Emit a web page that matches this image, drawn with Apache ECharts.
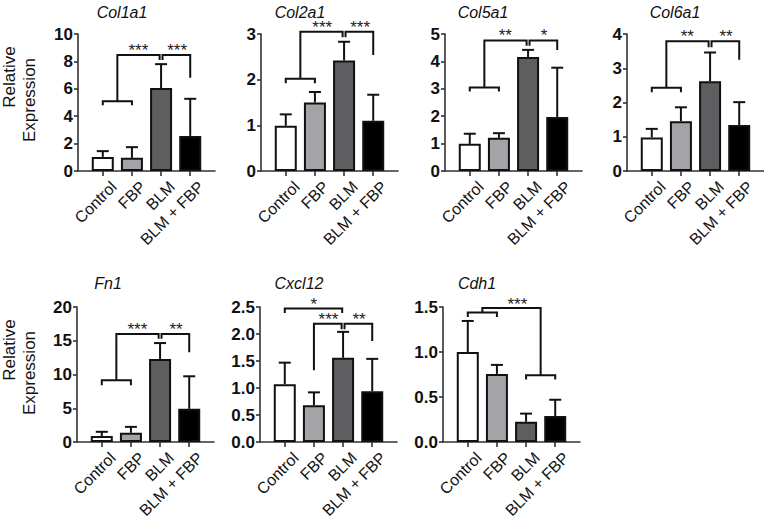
<!DOCTYPE html>
<html><head><meta charset="utf-8">
<script src="https://cdn.jsdelivr.net/npm/echarts@6/dist/echarts.min.js"></script>
<style>html,body{margin:0;padding:0;background:#fff}#c{width:764px;height:521px}</style>
</head><body><div id="c"></div>
<script>
// ---------- data ----------
const categories = ['Control', 'FBP', 'BLM', 'BLM + FBP'];
const genes = ['Col1a1', 'Col2a1', 'Col5a1', 'Col6a1', 'Fn1', 'Cxcl12', 'Cdh1'];
const yMax = [10, 3, 5, 4, 20, 2.5, 1.5];
const yStep = [2, 1, 1, 1, 5, 0.5, 0.5];
const yDecimals = [0, 0, 0, 0, 0, 1, 1];

// mean values per gene (Control, FBP, BLM, BLM + FBP)
const col1a1Mean = [1.03, 0.96, 6.05, 2.56];
const col2a1Mean = [0.99, 1.50, 2.42, 1.10];
const col5a1Mean = [0.99, 1.21, 4.16, 1.97];
const col6a1Mean = [0.98, 1.45, 2.62, 1.34];
const fn1Mean = [0.88, 1.37, 12.3, 4.92];
const cxcl12Mean = [1.07, 0.68, 1.56, 0.94];
const cdh1Mean = [1.00, 0.757, 0.225, 0.29];

// upper error (SD) per gene
const col1a1Sd = [0.42, 0.78, 1.75, 2.71];
const col2a1Sd = [0.25, 0.23, 0.41, 0.57];
const col5a1Sd = [0.37, 0.17, 0.26, 1.80];
const col6a1Sd = [0.25, 0.41, 0.84, 0.67];
const fn1Sd = [0.64, 0.88, 2.36, 4.82];
const cxcl12Sd = [0.40, 0.24, 0.48, 0.60];
const cdh1Sd = [0.345, 0.10, 0.091, 0.18];

// significance brackets: [x1, x2, y, leftEndY, rightEndY]
const col1a1Brackets = [[0, 1, 5.1, 4.8, 4.8], [0.5, 1.95, 8.46, 5.1, 8.1], [2.05, 3, 8.46, 8.1, 6.8]];
const col2a1Brackets = [[0, 1, 2.02, 1.92, 1.92], [0.5, 1.95, 3.05, 2.02, 2.93], [2.05, 3, 3.05, 2.93, 2.54]];
const col5a1Brackets = [[0, 1, 3.05, 2.9, 2.9], [0.5, 1.95, 4.76, 3.05, 4.57], [2.05, 3, 4.76, 4.57, 4.42]];
const col6a1Brackets = [[0, 1, 2.43, 2.3, 2.3], [0.5, 1.95, 3.79, 2.43, 3.61], [2.05, 3, 3.79, 3.61, 3.25]];
const fn1Brackets = [[0, 1, 9.15, 8.4, 8.4], [0.5, 1.95, 16.0, 9.15, 15.3], [2.05, 3, 16.0, 15.3, 13.3]];
const cxcl12Brackets = [[0, 1.97, 2.47, 2.39, 2.39], [1, 1.95, 2.19, 1.33, 2.09], [2.05, 3, 2.19, 2.09, 1.87]];
const cdh1Brackets = [[0, 1, 1.438, 1.39, 1.39], [2, 3, 0.743, 0.695, 0.695], [0.5, 2.5, 1.49, 1.438, 0.743]];

// significance stars: [x, y, text]
const col1a1Stars = [[1.22, 9.05, '***'], [2.55, 9.05, '***']];
const col2a1Stars = [[1.25, 3.2, '***'], [2.55, 3.2, '***']];
const col5a1Stars = [[1.22, 5.07, '**'], [2.55, 5.07, '*']];
const col6a1Stars = [[1.22, 4.02, '**'], [2.55, 4.02, '**']];
const fn1Stars = [[1.22, 17.1, '***'], [2.55, 17.1, '**']];
const cxcl12Stars = [[1.0, 2.61, '*'], [1.5, 2.32, '***'], [2.55, 2.32, '**']];
const cdh1Stars = [[1.7, 1.565, '***']];

// ---------- layout / style ----------
const means = [col1a1Mean, col2a1Mean, col5a1Mean, col6a1Mean, fn1Mean, cxcl12Mean, cdh1Mean];
const sds = [col1a1Sd, col2a1Sd, col5a1Sd, col6a1Sd, fn1Sd, cxcl12Sd, cdh1Sd];
const brackets = [col1a1Brackets, col2a1Brackets, col5a1Brackets, col6a1Brackets, fn1Brackets, cxcl12Brackets, cdh1Brackets];
const stars = [col1a1Stars, col2a1Stars, col5a1Stars, col6a1Stars, fn1Stars, cxcl12Stars, cdh1Stars];

const gridLeft = [78, 261, 445, 627, 77, 260, 443];
const gridTop = [34, 34, 34, 34, 307, 307, 307];
const GW = 137, GH = 137;
const X_MIN = -0.85, X_MAX = 3.85;
const LABEL_SHIFT = 11 / (GW / (X_MAX - X_MIN)); // label anchor shift to the right (in axis units)
const titlePos = [[122, 12], [300, 12], [483, 12], [675, 12], [108, 283], [299, 283], [477, 283]];
const barColors = ['#ffffff', '#a4a4a8', '#5e5e60', '#000000'];
const INK = '#111';
const FONT = 'Liberation Sans, Arial, Helvetica, sans-serif';

const grids = [], xAxes = [], yAxes = [], series = [], graphics = [];

genes.forEach((g, k) => {
  grids.push({left: gridLeft[k], top: gridTop[k], width: GW, height: GH, containLabel: false});
  // axis with line + ticks
  xAxes.push({
    gridIndex: k, type: 'value', min: X_MIN, max: X_MAX, position: 'bottom',
    splitLine: {show: false},
    axisLine: {show: true, onZero: false, lineStyle: {color: '#333', width: 1.6}},
    axisTick: {show: true, customValues: [0, 1, 2, 3], length: 5, lineStyle: {color: '#333', width: 1.6}},
    axisLabel: {show: false}
  });
  // companion axis carrying the rotated category labels
  xAxes.push({
    gridIndex: k, type: 'value', min: X_MIN - LABEL_SHIFT, max: X_MAX - LABEL_SHIFT, position: 'bottom', offset: 0,
    splitLine: {show: false}, axisLine: {show: false, onZero: false}, axisTick: {show: false},
    axisLabel: {
      customValues: [0, 1, 2, 3], rotate: 45, margin: 13,
      formatter: v => categories[Math.round(v)],
      fontFamily: FONT, fontSize: 16, color: '#111'
    }
  });
  yAxes.push({
    gridIndex: k, type: 'value', min: 0, max: yMax[k], interval: yStep[k],
    splitLine: {show: false},
    axisLine: {show: true, onZero: false, lineStyle: {color: '#333', width: 1.6}},
    axisTick: {show: true, length: 4, lineStyle: {color: '#333', width: 1.6}},
    axisLabel: {
      margin: 5, fontFamily: FONT, fontSize: 17, fontWeight: 'bold', color: '#111',
      formatter: v => Number(v).toFixed(yDecimals[k])
    }
  });
  const xi = 2 * k;
  // error bars (upper only)
  series.push({
    type: 'custom', xAxisIndex: xi, yAxisIndex: k, z: 1,
    data: means[k].map((m, i) => [i, m, m + sds[k][i]]),
    renderItem: (params, api) => {
      const p0 = api.coord([api.value(0), api.value(1)]);
      const p1 = api.coord([api.value(0), api.value(2)]);
      return {type: 'group', children: [
        {type: 'line', shape: {x1: p0[0], y1: p0[1], x2: p1[0], y2: p1[1]}, style: {stroke: INK, lineWidth: 2}},
        {type: 'line', shape: {x1: p1[0] - 6, y1: p1[1], x2: p1[0] + 6, y2: p1[1]}, style: {stroke: INK, lineWidth: 2}}
      ]};
    }
  });
  // bars
  series.push({
    type: 'bar', xAxisIndex: xi, yAxisIndex: k, z: 2, barWidth: 22,
    data: means[k].map((m, i) => ({value: [i, m], itemStyle: {color: barColors[i]}})),
    itemStyle: {borderColor: INK, borderWidth: 2}
  });
  // brackets
  series.push({
    type: 'custom', xAxisIndex: xi, yAxisIndex: k, z: 3, clip: false,
    data: brackets[k],
    renderItem: (params, api) => {
      const x1 = api.value(0), x2 = api.value(1), y = api.value(2), yl = api.value(3), yr = api.value(4);
      const pts = [api.coord([x1, yl]), api.coord([x1, y]), api.coord([x2, y]), api.coord([x2, yr])];
      return {type: 'polyline', shape: {points: pts}, style: {stroke: INK, lineWidth: 2, fill: null}};
    }
  });
  // stars
  series.push({
    type: 'custom', xAxisIndex: xi, yAxisIndex: k, z: 3, clip: false,
    data: stars[k],
    renderItem: (params, api) => {
      const p = api.coord([api.value(0), api.value(1)]);
      return {type: 'text', x: p[0], y: p[1] + 3, style: {
        text: stars[k][params.dataIndex][2], fontFamily: FONT, fontSize: 17, fill: '#222',
        align: 'center', verticalAlign: 'middle'
      }};
    }
  });
  graphics.push({type: 'text', x: titlePos[k][0], y: titlePos[k][1], style: {
    text: g, fontFamily: FONT, fontSize: 16, fontStyle: 'italic', fill: '#111',
    align: 'center', verticalAlign: 'middle'
  }});
});

[[77, 100], [350, 373]].forEach(([yr, ye]) => {
  graphics.push({type: 'text', x: 9, y: yr, rotation: Math.PI / 2, style: {
    text: 'Relative', fontFamily: FONT, fontSize: 17, fill: '#111', align: 'center', verticalAlign: 'middle'}});
  graphics.push({type: 'text', x: 29, y: ye, rotation: Math.PI / 2, style: {
    text: 'Expression', fontFamily: FONT, fontSize: 17, fill: '#111', align: 'center', verticalAlign: 'middle'}});
});

const chart = echarts.init(document.getElementById('c'), null, {renderer: 'svg'});
chart.setOption({
  animation: false,
  backgroundColor: '#fff',
  grid: grids, xAxis: xAxes, yAxis: yAxes, series: series, graphic: graphics
});
</script></body></html>
